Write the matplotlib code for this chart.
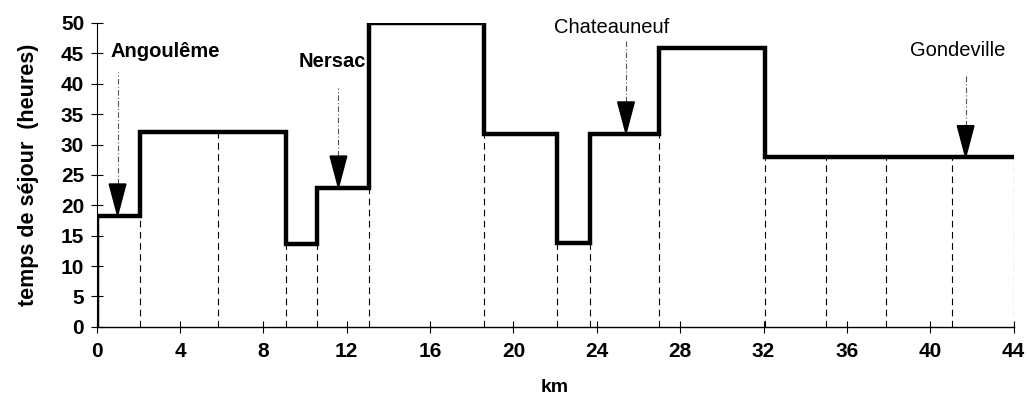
import matplotlib
matplotlib.use('Agg')
import matplotlib.pyplot as plt
import numpy as np

# --- data ---
edges_km = [0, 2.1, 9.1, 10.55, 13.05, 18.6, 22.1, 23.65, 27.0, 32.05, 44]
sejour_h = [18.3, 32.0, 13.6, 22.9, 50.0, 31.8, 13.8, 31.8, 45.8, 27.9]
dashed_km = [2.1, 5.8, 9.1, 10.55, 13.05, 18.6, 22.1, 23.65, 27.0, 32.05, 35.0, 37.9, 41.05, 44.0]

towns = ['Angoulême', 'Nersac', 'Chateauneuf', 'Gondeville']
town_km = [1.0, 11.6, 25.4, 41.7]
arrow_top = [42.0, 39.3, 47.0, 41.5]
label_x = [3.3, 11.3, 24.7, 41.3]
label_y = [45.3, 43.7, 49.2, 45.4]
label_weight = ['bold', 'bold', 'normal', 'normal']

plt.rcParams['font.family'] = ['Liberation Sans', 'DejaVu Sans']

fig = plt.figure(figsize=(10.29, 4.03), dpi=100)
ax = fig.add_axes([0.094, 0.189, 0.891, 0.754])


def level_at(x):
    i = np.searchsorted(edges_km, x, side='right') - 1
    i = min(max(i, 0), len(sejour_h) - 1)
    return sejour_h[i]


# dashed verticals under the curve
for x in dashed_km:
    ax.vlines(x, 0, level_at(x - 1e-6), colors='black', linewidth=0.8,
              linestyles=(0, (6, 4)), zorder=1)

# step curve starting from the origin
xs = [0] + edges_km
ys = [0] + sejour_h + [sejour_h[-1]]
ax.plot(xs, ys, drawstyle='steps-post', color='black', linewidth=3.2,
        solid_joinstyle='miter', zorder=3)

# town arrows
head_len = 5.2
head_w = 0.8
for name, x, top, lx, ly, w in zip(towns, town_km, arrow_top, label_x, label_y, label_weight):
    lvl = level_at(x)
    ax.vlines(x, lvl + head_len, top, colors='#555555', linewidth=0.8,
              linestyles=(0, (5, 2, 1, 2)), zorder=2)
    ax.fill([x - head_w / 2, x + head_w / 2, x], [lvl + head_len, lvl + head_len, lvl],
            color='black', zorder=4)
    ax.text(lx, ly, name, ha='center', va='center', fontsize=14.5, fontweight=w)

ax.set_xlim(0, 44)
ax.set_ylim(0, 50)
ax.set_xticks(np.arange(0, 45, 4))
ax.set_yticks(np.arange(0, 51, 5))
for s in ['top', 'right']:
    ax.spines[s].set_visible(False)
ax.spines['left'].set_linewidth(0.8)
ax.spines['bottom'].set_linewidth(1.0)
ax.tick_params(axis='both', direction='inout', length=8, width=0.8, labelsize=15)
ax.tick_params(axis='x', pad=7)
ax.tick_params(axis='y', pad=5)
for lab in ax.get_xticklabels() + ax.get_yticklabels():
    lab.set_fontweight('bold')

ax.set_xlabel('km', fontsize=14, fontweight='bold', labelpad=13)
ax.set_ylabel('temps de séjour  (heures)', fontsize=15.5, fontweight='bold', labelpad=16)

fig.savefig('out.png', dpi=100)
